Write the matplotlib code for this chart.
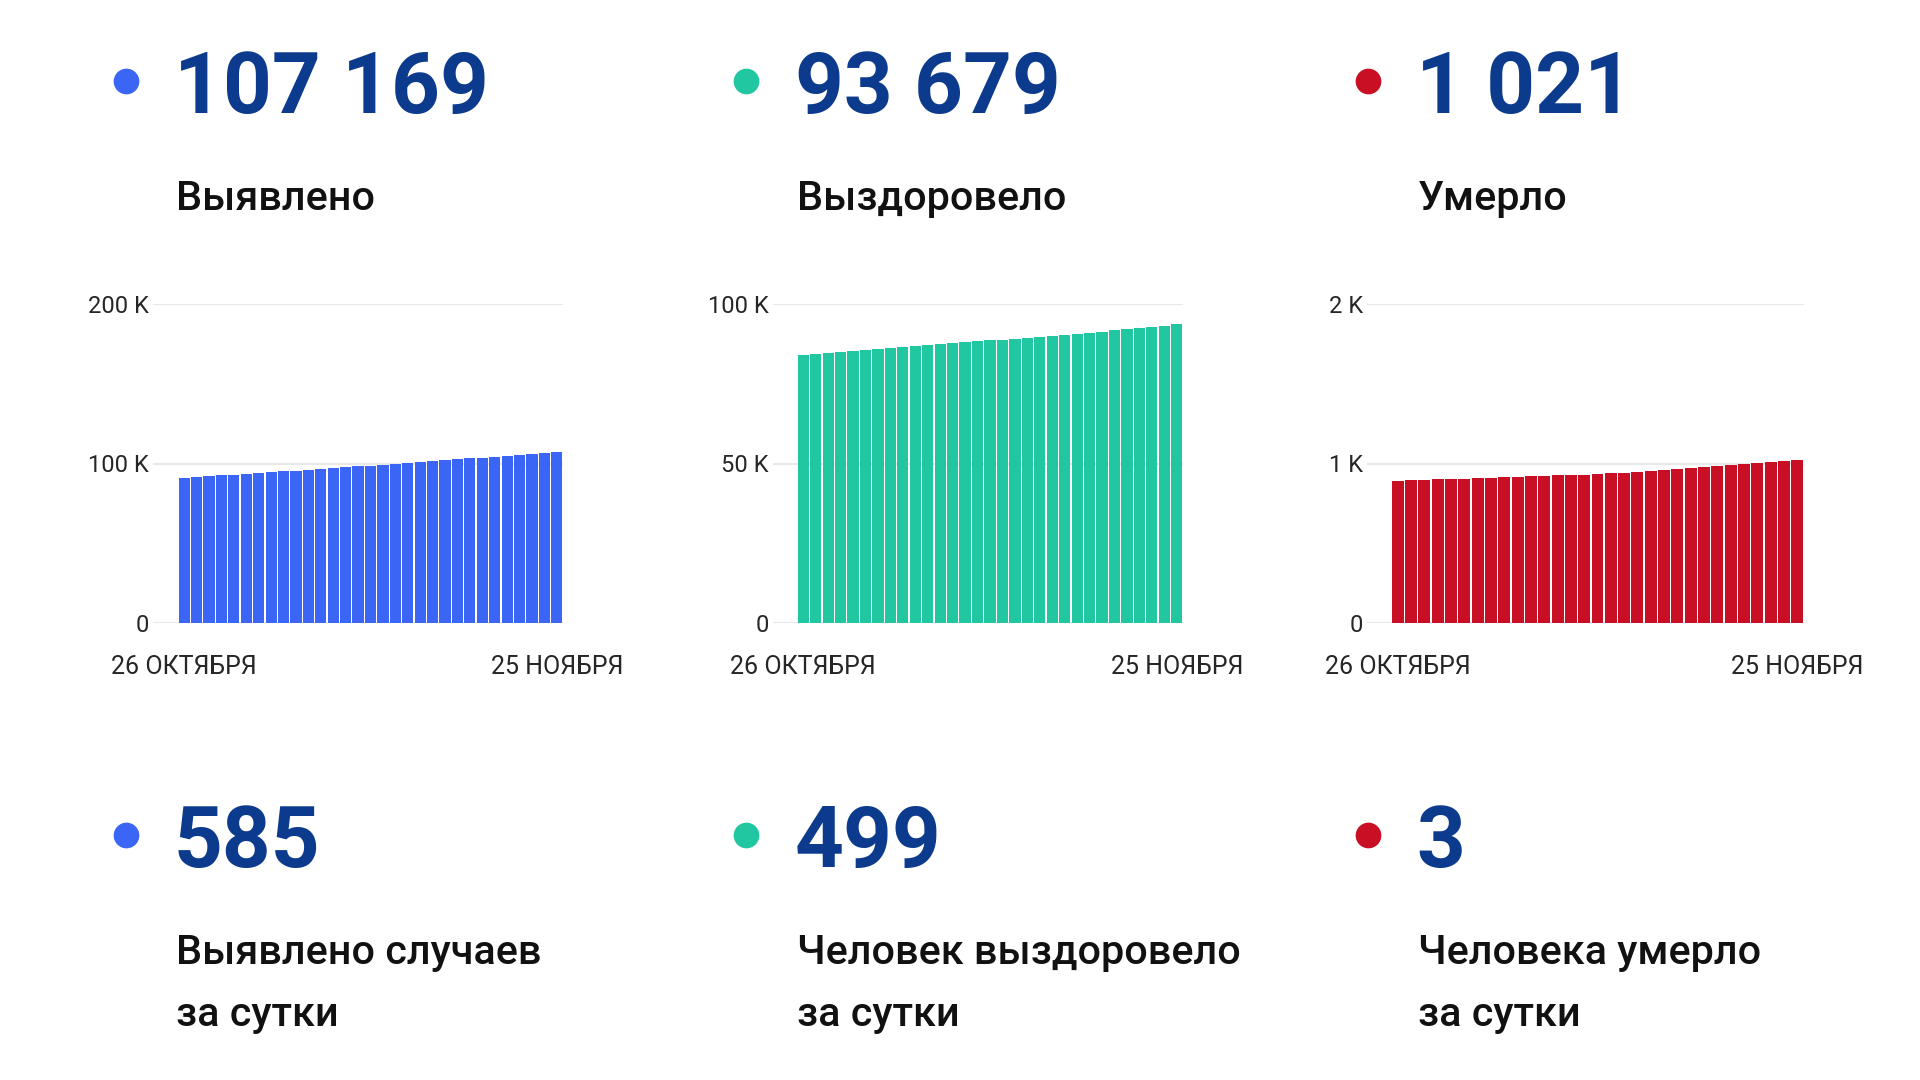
import matplotlib
matplotlib.use("Agg")
import matplotlib.pyplot as plt

plt.rcParams['font.family'] = ['Roboto', 'DejaVu Sans']

# данные: 26 октября - 25 ноября (31 день)
detected = [91064, 91544, 92034, 92529, 93029, 93534, 94034, 94544, 95059, 95579,
            96089, 96609, 97134, 97664, 98199, 98739, 99269, 99814, 100364, 100919,
            101479, 102029, 102589, 103154, 103724, 104299, 104859, 105429, 106009,
            106584, 107169]
recovered = [84030, 84340, 84640, 84960, 85250, 85560, 85860, 86140, 86440, 86750,
             87040, 87340, 87650, 87970, 88270, 88560, 88870, 89170, 89490, 89800,
             90100, 90430, 90740, 91040, 91360, 91700, 92030, 92380, 92760, 93180,
             93679]
died = [889, 894, 898, 900, 903, 905, 908, 911, 913, 916,
        919, 921, 925, 928, 930, 934, 938, 942, 947, 954,
        960, 964, 969, 976, 984, 991, 997, 1002, 1010, 1017,
        1021]

date_labels = ["26 ОКТЯБРЯ", "25 НОЯБРЯ"]

totals = ["107 169", "93 679", "1 021"]
total_titles = ["Выявлено", "Выздоровело", "Умерло"]
daily = ["585", "499", "3"]
daily_titles = [["Выявлено случаев", "за сутки"],
                ["Человек выздоровело", "за сутки"],
                ["Человека умерло", "за сутки"]]

colors = ["#3b66f5", "#21c7a1", "#c90f24"]
num_color = "#0c3a8d"
txt_color = "#111111"
tick_color = "#262626"

yticks = [[0, 100000, 200000], [0, 50000, 100000], [0, 1000, 2000]]
yticklabels = [["0", "100 K", "200 K"], ["0", "50 K", "100 K"], ["0", "1 K", "2 K"]]

W, H = 1920, 1080
fig = plt.figure(figsize=(19.2, 10.8), dpi=100)
fig.patch.set_facecolor("white")

# подложка в пикселях для текста и точек
bg = fig.add_axes([0, 0, 1, 1])
bg.set_xlim(0, W)
bg.set_ylim(H, 0)
bg.axis("off")

col_x = [174, 795, 1416]
dot_x = [126, 746, 1368]

for i in range(3):
    bg.plot(dot_x[i], 81, "o", ms=18.5, color=colors[i], mec="none")
    bg.text(col_x[i], 113, totals[i], fontsize=61.5, fontweight="bold",
            color=num_color, va="baseline", ha="left")
    bg.text(col_x[i] + 2, 210, total_titles[i], fontsize=29.8, fontweight="medium",
            color=txt_color, va="baseline", ha="left")

    bg.plot(dot_x[i], 835, "o", ms=18.5, color=colors[i], mec="none")
    bg.text(col_x[i], 867, daily[i], fontsize=61.5, fontweight="bold",
            color=num_color, va="baseline", ha="left")
    bg.text(col_x[i] + 2, 964, daily_titles[i][0], fontsize=29.8, fontweight="medium",
            color=txt_color, va="baseline", ha="left")
    bg.text(col_x[i] + 2, 1026, daily_titles[i][1], fontsize=29.8, fontweight="medium",
            color=txt_color, va="baseline", ha="left")

# графики
series = [detected, recovered, died]
grid_left = [153, 773, 1367]
bar_right = [563, 1183, 1804]
bar_left = [178, 797, 1391]
top_px, zero_px = 304, 623

for i in range(3):
    left = grid_left[i] / W
    width = (bar_right[i] - grid_left[i]) / W
    bottom = 1 - zero_px / H
    height = (zero_px - top_px) / H
    ax = fig.add_axes([left, bottom, width, height])

    n = len(series[i])
    pitch = (bar_right[i] - bar_left[i]) / n
    extra = (bar_left[i] - grid_left[i]) / pitch
    ax.bar(range(n), series[i], width=0.9, color=colors[i], zorder=3)
    ax.set_xlim(-0.5 - extra, n - 0.5)
    ax.set_ylim(0, yticks[i][-1])

    ax.set_yticks(yticks[i])
    ax.set_yticklabels(yticklabels[i])
    ax.set_xticks([0, n - 1])
    ax.set_xticklabels(date_labels)
    ax.tick_params(axis="y", length=0, pad=3, labelsize=17, labelcolor=tick_color)
    ax.tick_params(axis="x", length=0, pad=23, labelsize=18, labelcolor=tick_color)

    ax.grid(axis="y", color="#e8e8e8", linewidth=1.5, zorder=0)
    for s in ax.spines.values():
        s.set_visible(False)
    ax.set_facecolor("none")

fig.savefig("out.png", dpi=100, facecolor="white")
